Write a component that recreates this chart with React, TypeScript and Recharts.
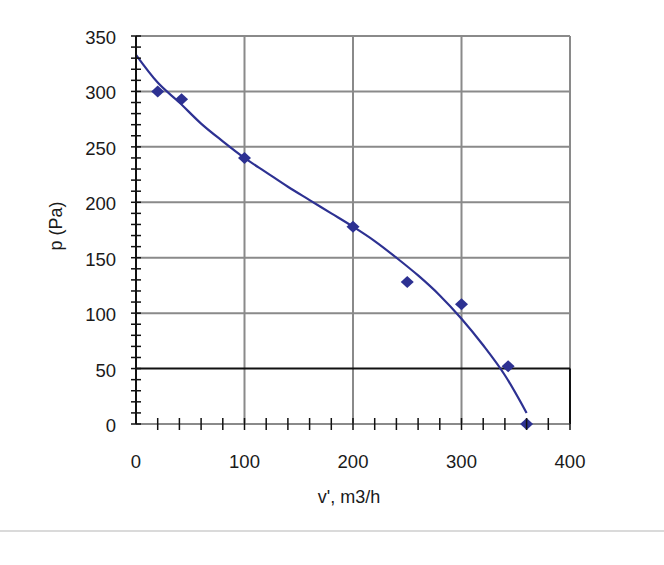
import {
  ComposedChart,
  Line,
  Scatter,
  XAxis,
  YAxis,
  ReferenceLine,
} from "recharts";

// measured points (v', m3/h ; p, Pa)
const measuredV = [20, 42, 100, 200, 250, 300, 343, 360];
const measuredP = [300, 293, 240, 178, 128, 108, 52, 0];

// trendline
const curveV = [0, 20, 40, 60, 80, 100, 120, 140, 160, 180, 200, 220, 240, 260, 280, 300, 320, 340, 360];
const curveP = [333, 308, 290, 271, 255, 240, 227, 214, 202, 190, 178, 165, 150, 134, 116, 95, 71, 44, 10];

const xTicks = [0, 20, 40, 60, 80, 100, 120, 140, 160, 180, 200, 220, 240, 260, 280, 300, 320, 340, 360, 380, 400];
const yTicks = [0, 10, 20, 30, 40, 50, 60, 70, 80, 90, 100, 110, 120, 130, 140, 150, 160, 170, 180, 190, 200,
  210, 220, 230, 240, 250, 260, 270, 280, 290, 300, 310, 320, 330, 340, 350];
const xGrid = [100, 200, 300, 400];
const yGrid = [100, 150, 200, 250, 300, 350];

const points = measuredV.map((v, i) => ({ v, p: measuredP[i] }));
const curve = curveV.map((v, i) => ({ v, p: curveP[i] }));

const NAVY = "#2d3192";
const GRID = "#8a8a8a";
const FONT = "'Liberation Sans', Arial, sans-serif";

// eslint-disable-next-line @typescript-eslint/no-explicit-any
const YTick = (props: any) => {
  const { x, y, payload } = props;
  const major = payload.value % 50 === 0;
  return (
    <g>
      <line x1={x - 5} x2={x + 5} y1={y} y2={y} stroke="#111" strokeWidth={1.5} />
      {major && (
        <text x={x - 20} y={y} dy={8} textAnchor="end" fontSize={18.5} fill="#1a1a1a" fontFamily={FONT}>
          {payload.value}
        </text>
      )}
    </g>
  );
};

// eslint-disable-next-line @typescript-eslint/no-explicit-any
const XTick = (props: any) => {
  const { x, y, payload } = props;
  const major = payload.value % 100 === 0;
  return (
    <g>
      {payload.value > 0 && (
        <line x1={x} x2={x} y1={y - 6} y2={y + 6} stroke="#111" strokeWidth={1.5} />
      )}
      {major && (
        <text x={x} y={y} dy={44} textAnchor="middle" fontSize={18.5} fill="#1a1a1a" fontFamily={FONT}>
          {payload.value}
        </text>
      )}
    </g>
  );
};

// eslint-disable-next-line @typescript-eslint/no-explicit-any
const Diamond = (props: any) => {
  const { cx, cy } = props;
  return (
    <polygon
      points={`${cx - 6.5},${cy} ${cx},${cy - 6} ${cx + 6.5},${cy} ${cx},${cy + 6}`}
      fill={NAVY}
    />
  );
};

export default function App() {
  return (
    <div style={{ position: "absolute", left: 0, top: 0, width: 664, height: 565, background: "#fff" }}>
      <ComposedChart
        width={664}
        height={565}
        margin={{ top: 36, right: 94, left: 0, bottom: 0 }}
      >
        <XAxis
          dataKey="v"
          type="number"
          domain={[0, 400]}
          ticks={xTicks}
          interval={0}
          tickSize={0}
          tickMargin={0}
          tick={XTick}
          height={141}
          axisLine={{ stroke: GRID, strokeWidth: 2 }}
          label={{
            content: ({ viewBox }: any) => (
              <text
                x={viewBox.x + viewBox.width / 2 - 4}
                y={viewBox.y + 79}
                textAnchor="middle"
                fontSize={18}
                fill="#1a1a1a"
                fontFamily={FONT}
              >
                v', m3/h
              </text>
            ),
          }}
        />
        <YAxis
          dataKey="p"
          type="number"
          domain={[0, 350]}
          ticks={yTicks}
          interval={0}
          tickSize={0}
          tickMargin={0}
          tick={YTick}
          width={136}
          axisLine={{ stroke: "#111", strokeWidth: 2 }}
          label={{
            content: ({ viewBox }: any) => {
              const cx = viewBox.x + 56;
              const cy = viewBox.y + viewBox.height / 2 - 4;
              return (
                <text
                  x={cx}
                  y={cy}
                  transform={`rotate(-90, ${cx}, ${cy})`}
                  textAnchor="middle"
                  dominantBaseline="central"
                  fontSize={18}
                  fill="#1a1a1a"
                  fontFamily={FONT}
                >
                  p (Pa)
                </text>
              );
            },
          }}
        />

        {/* grid */}
        {yGrid.map((g) => (
          <ReferenceLine key={`h-${g}`} y={g} stroke={GRID} strokeWidth={2} />
        ))}
        {xGrid.map((g) => (
          <ReferenceLine key={`v-${g}`} x={g} stroke={GRID} strokeWidth={2} />
        ))}
        <ReferenceLine y={50} stroke="#111" strokeWidth={2} />
        <ReferenceLine
          segment={[{ x: 400, y: 0 }, { x: 400, y: 50 }]}
          stroke="#111"
          strokeWidth={2}
        />

        <Line
          data={curve}
          dataKey="p"
          type="monotone"
          stroke={NAVY}
          strokeWidth={2.2}
          dot={false}
          activeDot={false}
          isAnimationActive={false}
        />
        <Scatter
          data={points}
          dataKey="p"
          fill={NAVY}
          shape={Diamond}
          legendType="none"
          isAnimationActive={false}
        />
      </ComposedChart>
      <div style={{ position: "absolute", left: 0, top: 530, width: 664, height: 2, background: "#dadada" }} />
    </div>
  );
}
